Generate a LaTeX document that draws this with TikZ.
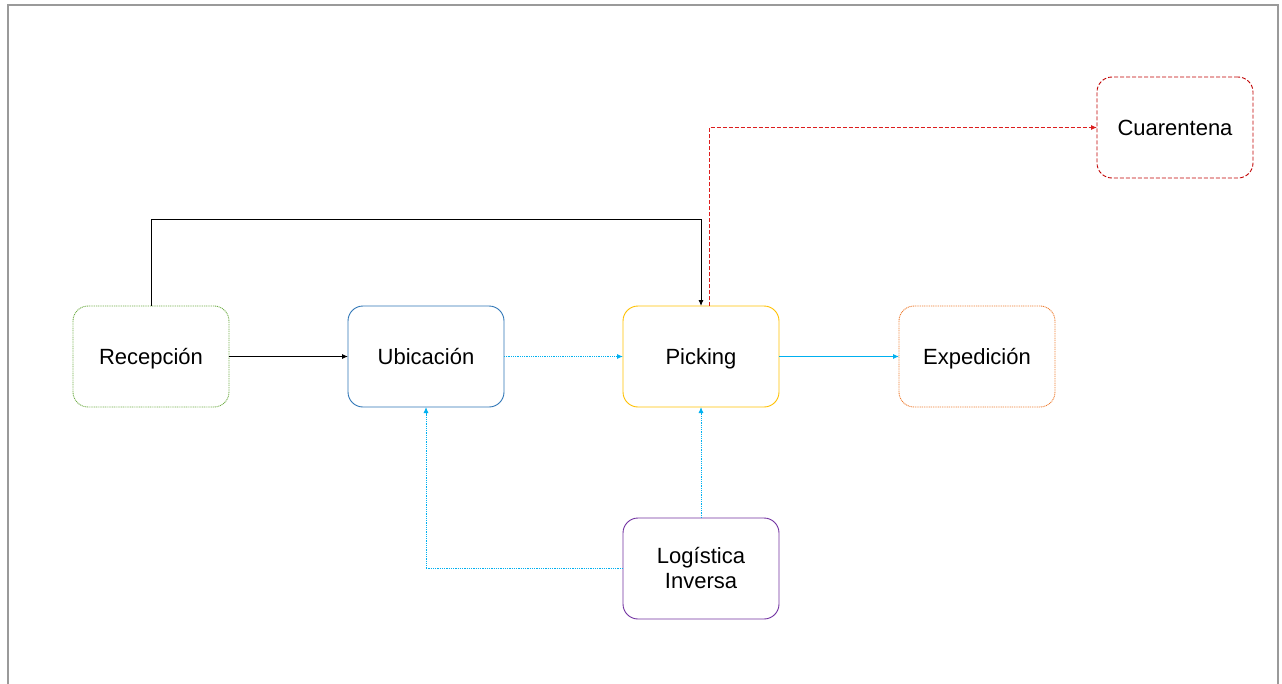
\documentclass[tikz,border=0pt]{standalone}
\usepackage{fontspec}
\setmainfont{Liberation Sans}
\usetikzlibrary{arrows.meta}
\definecolor{cgreen}{HTML}{70AD47}
\definecolor{cblue}{HTML}{2E75B6}
\definecolor{cyellow}{HTML}{FFC000}
\definecolor{corange}{HTML}{ED7D31}
\definecolor{cred}{HTML}{C00000}
\definecolor{qred}{RGB}{220,30,30}
\definecolor{cpurple}{HTML}{7030A0}
\definecolor{clight}{HTML}{00B0F0}
\definecolor{cframe}{HTML}{9A9A9A}
\tikzset{
  stage/.style={draw, rounded corners=15pt, minimum width=156pt, minimum height=101pt,
    line width=0.9pt, align=center, inner sep=2pt, outer sep=0pt,
    text height=15.6pt, text depth=0pt, text=black,
    font=\fontsize{22}{25}\selectfont},
  fine/.style={dash pattern=on 1pt off 0.8pt},
  link/.style={line width=0.9pt, -{Latex[length=6pt,width=5pt]}},
  blink/.style={link, draw=clight},
  qlink/.style={line width=1pt, draw=qred, dash pattern=on 4pt off 2pt,
    -{Latex[length=6pt,width=5pt]}},
}
\begin{document}
\begin{tikzpicture}[x=1pt,y=-1pt]
  \useasboundingbox (0,0) rectangle (1282,683);
  % outer frame, open at the bottom
  \draw[cframe, line width=1.5pt] (8,690) -- (8,5) -- (1278,5) -- (1278,690);

  % process stages
  \node[stage, draw=cgreen, fine]   (rec)  at (151,356.5) {Recepción};
  \node[stage, draw=cblue]          (ubi)  at (426,356.5) {Ubicación};
  \node[stage, draw=cyellow]        (pick) at (701,356.5) {Picking};
  \node[stage, draw=corange, fine]  (exp)  at (977,356.5) {Expedición};
  \node[stage, draw=cred, dash pattern=on 4pt off 2pt] (cuar) at (1175,127.5) {Cuarentena};
  \node[stage, draw=cpurple, text height=40.6pt] (log) at (701,568.5) {Logística\\Inversa};

  % flows between stages
  \draw[link, black] (rec) -- (ubi);
  \draw[blink, fine] (ubi) -- (pick);
  \draw[blink] (pick) -- (exp);
  \draw[link, black] (rec.north) -- ++(0,-87) -| (pick.north);
  \draw[qlink] ([xshift=8pt]pick.north) |- (cuar.west);
  \draw[blink, fine] (log.north) -- (pick.south);
  \draw[blink, fine] (log.west) -| (ubi.south);
\end{tikzpicture}
\end{document}
